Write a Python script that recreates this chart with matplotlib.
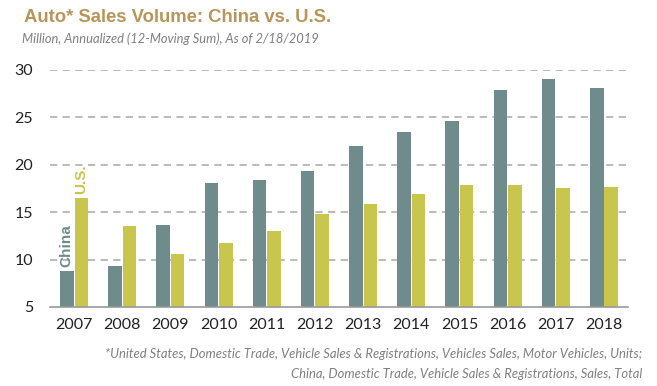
import matplotlib.pyplot as plt
import numpy as np

years = ['2007', '2008', '2009', '2010', '2011', '2012', '2013', '2014', '2015', '2016', '2017', '2018']
china = [8.8, 9.3, 13.6, 18.1, 18.4, 19.3, 22.0, 23.5, 24.6, 27.9, 29.0, 28.1]
us = [16.5, 13.5, 10.6, 11.7, 13.0, 14.8, 15.9, 16.9, 17.9, 17.9, 17.6, 17.7]
y_ticks = [5, 10, 15, 20, 25, 30]

c_china = '#6f8b8b'
c_us = '#c9c64e'
c_title = '#b9955a'
c_grey = '#808080'

fig = plt.figure(figsize=(6.57, 3.86), dpi=100)
ax = fig.add_axes([0.076, 0.2047, 0.88, 0.614])

x = np.arange(len(years))
w = 0.28
ax.bar(x - 0.15, china, w, color=c_china, zorder=2)
ax.bar(x + 0.15, us, w, color=c_us, zorder=2)

ax.set_ylim(5, 30)
ax.set_xlim(-0.5, len(years) - 0.5)
ax.set_yticks(y_ticks)
ax.set_xticks(x)
ax.set_xticklabels(years, family='Lato', fontsize=11.5)
ax.set_yticklabels([str(v) for v in y_ticks], family='Lato', fontsize=11.5)
ax.tick_params(length=0, pad=8, colors='#222222')
ax.tick_params(axis='y', pad=12)
for yv in y_ticks[1:]:
    ax.axhline(yv, color='#b5b5b5', linestyle=(0, (4, 3)), linewidth=1.3, zorder=1)
for s in ['top', 'right', 'left']:
    ax.spines[s].set_visible(False)
ax.spines['bottom'].set_color('#999999')
ax.spines['bottom'].set_linewidth(1.2)
ax.spines['bottom'].set_zorder(3)

# series labels above the 2007 bars
ax.text(-0.15, china[0] + 0.4, 'China', rotation=90, ha='center', va='bottom',
        color=c_china, fontsize=11, fontweight='bold', family='Liberation Sans')
ax.text(0.15, us[0] + 0.4, 'U.S.', rotation=90, ha='center', va='bottom',
        color=c_us, fontsize=11, fontweight='bold', family='Liberation Sans')

fig.text(0.037, 0.955, 'Auto* Sales Volume: China vs. U.S.', color=c_title,
         fontsize=13.3, fontweight='bold', family='Liberation Sans', va='center')
fig.text(0.034, 0.9, 'Million, Annualized (12-Moving Sum), As of 2/18/2019', color=c_grey,
         fontsize=9.3, style='italic', family='Lato', va='center')

fig.text(0.977, 0.082, '*United States, Domestic Trade, Vehicle Sales & Registrations, Vehicles Sales, Motor Vehicles, Units;',
         color=c_grey, fontsize=9.4, style='italic', family='Lato', ha='right', va='center')
fig.text(0.977, 0.032, 'China, Domestic Trade, Vehicle Sales & Registrations, Sales, Total',
         color=c_grey, fontsize=9.4, style='italic', family='Lato', ha='right', va='center')

plt.savefig('out.png', dpi=100)
